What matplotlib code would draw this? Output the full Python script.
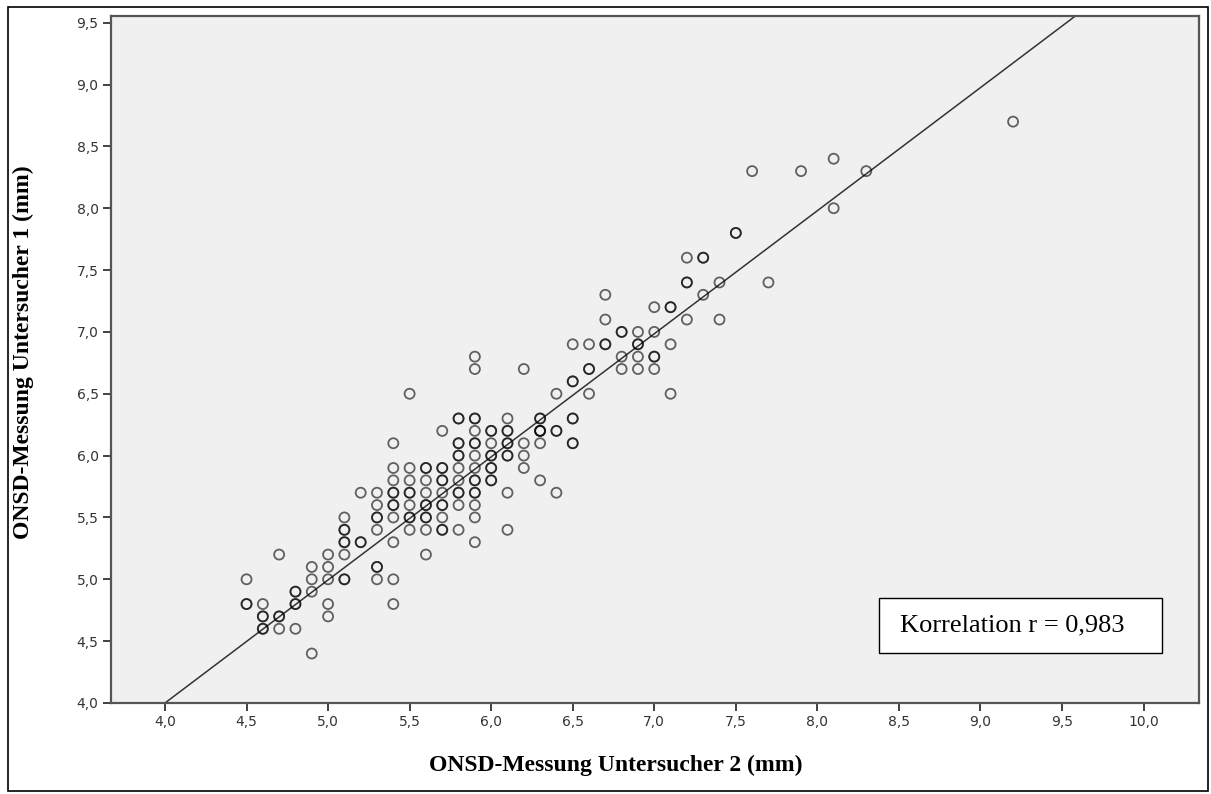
import matplotlib
matplotlib.use("Agg")
import matplotlib.pyplot as plt
from matplotlib.patches import Rectangle

# ONSD Untersucher 2 (x) vs Untersucher 1 (y), grouped by x column
x_unt2 = [4.5]*3 + [4.6]*5 + [4.7]*4 + [4.8]*5 + [4.9]*4 + [5.0]*5 + [5.1]*8 + [5.2]*3 \
    + [5.3]*8 + [5.4]*11 + [5.5]*9 + [5.6]*10 + [5.7]*11 + [5.8]*12 + [5.9]*16 + [6.0]*9 \
    + [6.1]*9 + [6.2]*4 + [6.3]*7 + [6.4]*4 + [6.5]*7 + [6.6]*4 + [6.7]*4 + [6.8]*4 \
    + [6.9]*5 + [7.0]*5 + [7.1]*4 + [7.2]*4 + [7.3]*3 + [7.4]*2 + [7.5]*2 + [7.6] + [7.7] \
    + [7.9] + [8.1]*2 + [8.3] + [9.2]
y_unt1 = [5.0, 4.8, 4.8,
          4.8, 4.7, 4.7, 4.6, 4.6,
          5.2, 4.7, 4.7, 4.6,
          4.9, 4.9, 4.8, 4.8, 4.6,
          5.1, 5.0, 4.9, 4.4,
          5.2, 5.1, 5.0, 4.8, 4.7,
          5.5, 5.4, 5.4, 5.3, 5.3, 5.2, 5.0, 5.0,
          5.7, 5.3, 5.3,
          5.7, 5.6, 5.5, 5.5, 5.4, 5.1, 5.1, 5.0,
          6.1, 5.9, 5.8, 5.7, 5.7, 5.6, 5.6, 5.5, 5.3, 5.0, 4.8,
          6.5, 5.9, 5.8, 5.7, 5.7, 5.6, 5.5, 5.5, 5.4,
          5.9, 5.9, 5.8, 5.7, 5.6, 5.6, 5.5, 5.5, 5.4, 5.2,
          6.2, 5.9, 5.9, 5.8, 5.8, 5.7, 5.6, 5.6, 5.5, 5.4, 5.4,
          6.3, 6.3, 6.1, 6.1, 6.0, 6.0, 5.9, 5.8, 5.7, 5.7, 5.6, 5.4,
          6.8, 6.7, 6.3, 6.3, 6.2, 6.1, 6.1, 6.0, 5.9, 5.8, 5.8, 5.7, 5.7, 5.6, 5.5, 5.3,
          6.2, 6.2, 6.1, 6.0, 6.0, 5.9, 5.9, 5.8, 5.8,
          6.3, 6.2, 6.2, 6.1, 6.1, 6.0, 6.0, 5.7, 5.4,
          6.7, 6.1, 6.0, 5.9,
          6.3, 6.3, 6.2, 6.2, 6.2, 6.1, 5.8,
          6.5, 6.2, 6.2, 5.7,
          6.9, 6.6, 6.6, 6.3, 6.3, 6.1, 6.1,
          6.9, 6.7, 6.7, 6.5,
          7.3, 7.1, 6.9, 6.9,
          7.0, 7.0, 6.8, 6.7,
          7.0, 6.9, 6.9, 6.8, 6.7,
          7.2, 7.0, 6.8, 6.8, 6.7,
          7.2, 7.2, 6.9, 6.5,
          7.6, 7.4, 7.4, 7.1,
          7.6, 7.6, 7.3,
          7.4, 7.1,
          7.8, 7.8,
          8.3,
          7.4,
          8.3,
          8.4, 8.0,
          8.3,
          8.7]

fit_slope = 0.995
fit_intercept = 0.02
r_text = "Korrelation r = 0,983"

xticks = [4.0, 4.5, 5.0, 5.5, 6.0, 6.5, 7.0, 7.5, 8.0, 8.5, 9.0, 9.5, 10.0]
yticks = [4.0, 4.5, 5.0, 5.5, 6.0, 6.5, 7.0, 7.5, 8.0, 8.5, 9.0, 9.5]

W, H = 1211, 794
fig = plt.figure(figsize=(W / 100, H / 100), dpi=100)
ax = fig.add_axes([111 / W, 1 - 703 / H, (1199 - 111) / W, (703 - 16) / H])
ax.set_facecolor("#f0f0f0")

ax.scatter(x_unt2, y_unt1, s=52, facecolors="none", edgecolors=(0, 0, 0, 0.6),
           linewidths=1.3, zorder=3)

xl = [3.6, 10.4]
ax.plot(xl, [fit_intercept + fit_slope * v for v in xl], color="#333333", lw=1.1, zorder=2)

ax.set_xlim(3.669, 10.34)
ax.set_ylim(4.0, 9.554)
ax.set_xticks(xticks)
ax.set_yticks(yticks)
ax.set_xticklabels([("%.1f" % v).replace(".", ",") for v in xticks])
ax.set_yticklabels([("%.1f" % v).replace(".", ",") for v in yticks])
ax.tick_params(direction="out", length=6, width=1.3, color="#333333",
               labelsize=10, labelcolor="#333333", pad=3)
for s in ax.spines.values():
    s.set_color("#555555")
    s.set_linewidth(1.6)

serif = ["Liberation Serif", "DejaVu Serif"]
ax.set_xlabel("ONSD-Messung Untersucher 2 (mm)", family=serif, fontweight="bold",
              fontsize=17, va="center")
ax.set_ylabel("ONSD-Messung Untersucher 1 (mm)", family=serif, fontweight="bold",
              fontsize=17, va="center")
ax.xaxis.set_label_coords((616 - 111) / 1088, (703 - 765) / 687)
ax.yaxis.set_label_coords((23 - 111) / 1088, (703 - 352) / 687)

# correlation box
bx0, bx1 = (879 - 111) / 1088, (1162 - 111) / 1088
by0, by1 = (703 - 653) / 687, (703 - 598) / 687
ax.add_patch(Rectangle((bx0, by0), bx1 - bx0, by1 - by0, transform=ax.transAxes,
                       facecolor="white", edgecolor="black", lw=1.0, zorder=4))
ax.text((900 - 111) / 1088, (by0 + by1) / 2, r_text, transform=ax.transAxes,
        family=serif, fontsize=19, va="center", ha="left", zorder=5)

# outer frame
fig.patches.append(Rectangle((8 / W, 3 / H), (W - 11) / W, (H - 10) / H,
                             transform=fig.transFigure, fill=False,
                             edgecolor="black", lw=1.2))

fig.savefig("out.png", dpi=100)
